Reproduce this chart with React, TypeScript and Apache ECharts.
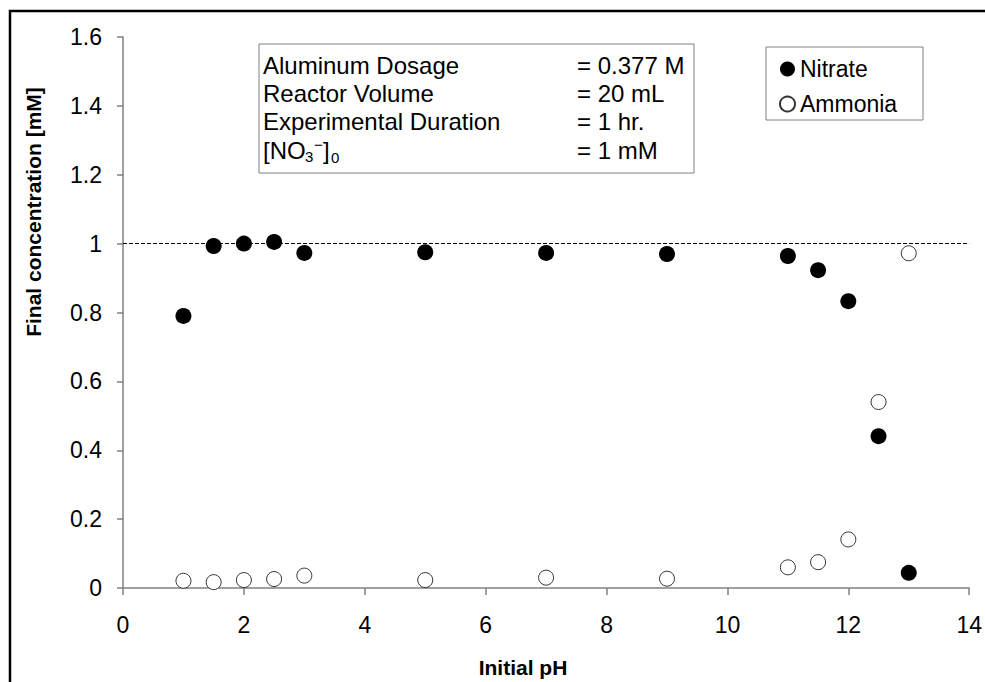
import React, { useEffect, useRef } from "react";
import * as echarts from "echarts";

const pH = [1, 1.5, 2, 2.5, 3, 5, 7, 9, 11, 11.5, 12, 12.5, 13];
const nitrate = [0.79, 0.993, 1.0, 1.005, 0.973, 0.975, 0.973, 0.97, 0.964, 0.923, 0.833, 0.441, 0.044];
const ammonia = [0.021, 0.017, 0.023, 0.026, 0.036, 0.023, 0.03, 0.027, 0.06, 0.075, 0.141, 0.54, 0.972];
const infoLabels = ["Aluminum Dosage", "Reactor Volume", "Experimental Duration"];
const infoValues = ["= 0.377 M", "= 20 mL", "= 1 hr.", "= 1 mM"];
const referenceLevel = 1;

const FONT = "'Liberation Sans', Arial, sans-serif";

export default function App() {
  const ref = useRef<HTMLDivElement>(null);
  useEffect(() => {
    if (!ref.current) return;
    const chart = echarts.init(ref.current, null, { renderer: "svg" });
    const lineYs = [65, 93, 121, 150];
    const textEls: any[] = [];
    infoLabels.forEach((t, i) => {
      textEls.push({
        type: "text", x: 263, y: lineYs[i],
        style: { text: t, font: `24px ${FONT}`, fill: "#000", textVerticalAlign: "middle" },
      });
    });
    infoValues.forEach((t, i) => {
      textEls.push({
        type: "text", x: 577, y: lineYs[i],
        style: { text: t, font: `24px ${FONT}`, fill: "#000", textVerticalAlign: "middle" },
      });
    });
    // [NO3-]0
    const y4 = lineYs[3];
    textEls.push(
      { type: "text", x: 263, y: y4, style: { text: "[NO", font: `24px ${FONT}`, fill: "#000", textVerticalAlign: "middle" } },
      { type: "text", x: 305, y: y4 + 6, style: { text: "3", font: `15px ${FONT}`, fill: "#000", textVerticalAlign: "middle" } },
      { type: "text", x: 314, y: y4 - 6, style: { text: "\u2212", font: `15px ${FONT}`, fill: "#000", textVerticalAlign: "middle" } },
      { type: "text", x: 323, y: y4, style: { text: "]", font: `24px ${FONT}`, fill: "#000", textVerticalAlign: "middle" } },
      { type: "text", x: 331, y: y4 + 7, style: { text: "0", font: `15px ${FONT}`, fill: "#000", textVerticalAlign: "middle" } }
    );

    const option: any = {
      animation: false,
      backgroundColor: "#fff",
      grid: { left: 123, top: 37, right: 12, bottom: 94, containLabel: false },
      xAxis: {
        type: "value", min: 0, max: 14, interval: 2,
        axisLine: { show: true, onZero: false, lineStyle: { color: "#808080", width: 1.5 } },
        axisTick: { show: true, length: 7, lineStyle: { color: "#808080", width: 1.5 } },
        axisLabel: { margin: 25, fontSize: 23, fontFamily: FONT, color: "#000" },
        splitLine: { show: false },
      },
      yAxis: {
        type: "value", min: 0, max: 1.6, interval: 0.2,
        axisLine: { show: true, lineStyle: { color: "#808080", width: 1.5 } },
        axisTick: { show: true, length: 6, lineStyle: { color: "#808080", width: 1.5 } },
        axisLabel: { margin: 21, fontSize: 23, fontFamily: FONT, color: "#000" },
        splitLine: { show: false },
      },
      legend: {
        orient: "vertical", left: 774, top: 52, itemGap: 11, itemWidth: 15, itemHeight: 15, itemTextGap: 18,
        icon: "circle",
        textStyle: { fontSize: 23, fontFamily: FONT, color: "#000", lineHeight: 24 },
        data: ["Nitrate", "Ammonia"],
      },
      series: [
        {
          name: "Nitrate", type: "scatter", symbol: "circle", symbolSize: 16,
          itemStyle: { color: "#000", opacity: 1 },
          data: pH.map((x, i) => [x, nitrate[i]]),
          markLine: {
            silent: true, symbol: "none", label: { show: false },
            lineStyle: { color: "#000", type: [4, 2], width: 1 },
            data: [{ yAxis: referenceLevel }],
          },
          z: 3,
        },
        {
          name: "Ammonia", type: "scatter", symbol: "circle", symbolSize: 15,
          itemStyle: { color: "#fff", borderColor: "#333", borderWidth: 1, opacity: 1 },
          data: pH.map((x, i) => [x, ammonia[i]]),
          z: 3,
        },
      ],
      graphic: [
        { type: "rect", shape: { x: 10, y: 11, width: 1000, height: 700 }, style: { fill: "none", stroke: "#000", lineWidth: 2.5 }, z: 10 },
        { type: "rect", shape: { x: 259, y: 44, width: 435, height: 129 }, style: { fill: "#fff", stroke: "#808080", lineWidth: 1 }, z: 1 },
        { type: "rect", shape: { x: 766, y: 47, width: 157, height: 73 }, style: { fill: "#fff", stroke: "#808080", lineWidth: 1 }, z: 0 },
        ...textEls.map((e) => ({ ...e, z: 2 })),
        {
          type: "text", x: 33, y: 212, rotation: Math.PI / 2,
          style: { text: "Final concentration [mM]", font: `bold 21px ${FONT}`, fill: "#000", textAlign: "center", textVerticalAlign: "middle" },
        },
        {
          type: "text", x: 523, y: 667,
          style: { text: "Initial pH", font: `bold 21px ${FONT}`, fill: "#000", textAlign: "center", textVerticalAlign: "middle" },
        },
      ],
    };
    chart.setOption(option);
    return () => chart.dispose();
  }, []);
  return <div ref={ref} style={{ position: "fixed", left: 0, top: 0, width: 985, height: 682 }} />;
}
